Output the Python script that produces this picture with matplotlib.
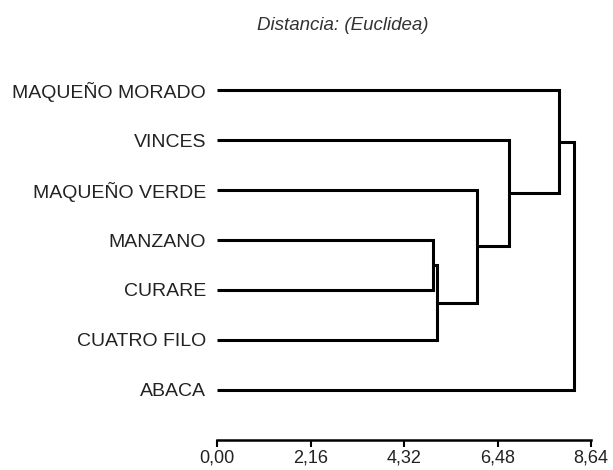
import matplotlib.pyplot as plt

plt.rcParams['font.family'] = ['Liberation Sans', 'DejaVu Sans']

# hojas de arriba hacia abajo
labels = ['MAQUEÑO MORADO', 'VINCES', 'MAQUEÑO VERDE', 'MANZANO',
          'CURARE', 'CUATRO FILO', 'ABACA']

# uniones: (grupo a, grupo b, distancia); grupos nuevos numerados desde 7
merge_a = [3, 7, 2, 1, 0, 11]
merge_b = [4, 5, 8, 9, 10, 6]
merge_h = [4.99, 5.07, 6.01, 6.75, 7.91, 8.24]

ticks = [0.00, 2.16, 4.32, 6.48, 8.64]
tick_labels = ['0,00', '2,16', '4,32', '6,48', '8,64']

fig = plt.figure(figsize=(6.13, 4.70), dpi=100)
ax = fig.add_axes([217.3 / 613, 1 - 440 / 470, 373.7 / 613, (440 - 60) / 470])

# posición (x, y) de cada grupo
pos = {i: (0.0, float(i)) for i in range(len(labels))}
lw = 2.2
for k, (a, b, h) in enumerate(zip(merge_a, merge_b, merge_h)):
    xa, ya = pos[a]
    xb, yb = pos[b]
    ax.plot([xa, h, h, xb], [ya, ya, yb, yb], color='black', lw=lw,
            solid_joinstyle='miter', solid_capstyle='butt', clip_on=False)
    pos[len(labels) + k] = (h, (ya + yb) / 2)

ax.set_xlim(0, 8.64)
ax.set_ylim(7, -0.6)
ax.set_xticks(ticks)
ax.set_xticklabels(tick_labels, fontsize=13, color='#222222')
ax.set_yticks(range(len(labels)))
ax.set_yticklabels(labels, fontsize=14, color='#222222')
ax.tick_params(axis='y', length=0, pad=8)
ax.tick_params(axis='x', length=5, width=1.5, pad=1.5)
for s in ['top', 'right', 'left']:
    ax.spines[s].set_visible(False)
ax.spines['bottom'].set_linewidth(1.8)

fig.text(342.5 / 613, 1 - 25 / 470, 'Distancia: (Euclidea)', fontsize=13.5,
         style='italic', color='#333333', ha='center', va='center')

fig.savefig('out.png', dpi=100)
